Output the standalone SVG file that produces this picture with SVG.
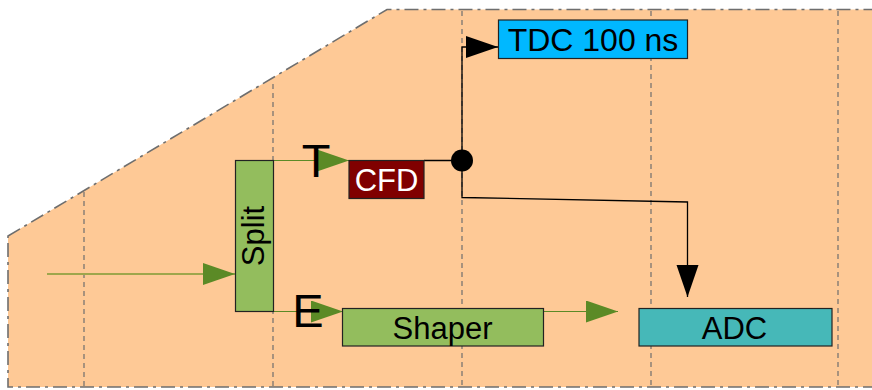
<svg xmlns="http://www.w3.org/2000/svg" width="872" height="390" viewBox="0 0 872 390">
<defs>
<style>
.bg{fill:#fec996;stroke:#6e6e6e;stroke-width:1.6;stroke-dasharray:14,5,3,5}
.grid{stroke:#6e6e6e;stroke-width:1.2;stroke-dasharray:5,4;fill:none}
.box{stroke:#222;stroke-width:1.2}
.lbl{font-family:"Liberation Sans",Arial,sans-serif;text-anchor:middle}
.gl{stroke:#5b8a26;stroke-width:1.2;fill:none}
.bl{stroke:#000;stroke-width:1.3;fill:none}
</style>
<marker id="ga" markerUnits="userSpaceOnUse" markerWidth="34" markerHeight="24" refX="32" refY="11" orient="auto" viewBox="0 0 34 24">
<path d="M0,0 L32,11 L0,22 Z" fill="#5b8a26"/>
</marker>
<marker id="ba" markerUnits="userSpaceOnUse" markerWidth="34" markerHeight="24" refX="32" refY="11" orient="auto" viewBox="0 0 34 24">
<path d="M0,0 L32,11 L0,22 Z" fill="#000"/>
</marker>
</defs>
<polygon class="bg" points="8,236 387,9.5 884,9.5 884,387 8,387"/>
<g id="grid">
<line class="grid" x1="84" y1="192" x2="84" y2="386"/>
<line class="grid" x1="273" y1="84" x2="273" y2="386"/>
<line class="grid" x1="462" y1="11" x2="462" y2="386"/>
<line class="grid" x1="651" y1="11" x2="651" y2="386"/>
<line class="grid" x1="838" y1="11" x2="838" y2="386"/>
</g>
<g id="connectors">
<line x1="47" y1="274" x2="235" y2="274" stroke="#9ea64c" stroke-width="2" marker-end="url(#ga)"/>
<line class="gl" x1="273" y1="160.5" x2="349" y2="160.5" marker-end="url(#ga)"/>
<line class="gl" x1="273" y1="311.5" x2="343" y2="311.5" marker-end="url(#ga)"/>
<line class="gl" x1="543" y1="311.5" x2="618" y2="311.5" marker-end="url(#ga)"/>
<line class="bl" x1="424" y1="160.5" x2="462" y2="160.5"/>
<polyline class="bl" points="462,160.5 462,47 498,47" marker-end="url(#ba)"/>
<polyline class="bl" points="462,160.5 462,197.5 687.5,202 687.5,297" marker-end="url(#ba)"/>
<circle cx="462" cy="160.5" r="11" fill="#000"/>
</g>
<g id="split">
<rect class="box" x="235.5" y="160.5" width="38" height="151" fill="#93bd5d"/>
<text class="lbl" transform="translate(264,236) rotate(-90)" font-size="31" fill="#000">Split</text>
</g>
<g id="cfd">
<rect class="box" x="349" y="160.5" width="75" height="38" fill="#800000"/>
<text class="lbl" x="386.5" y="191" font-size="31" fill="#fff">CFD</text>
</g>
<g id="tdc">
<rect class="box" x="498.5" y="20" width="189" height="38.5" fill="#00b8ff"/>
<text class="lbl" x="593" y="51" font-size="32" fill="#000">TDC 100 ns</text>
</g>
<g id="shaper">
<rect class="box" x="342.5" y="308.5" width="201" height="37.5" fill="#93bd5d"/>
<text class="lbl" x="442.5" y="338.5" font-size="31" fill="#000">Shaper</text>
</g>
<g id="adc">
<rect class="box" x="639" y="308.5" width="193" height="37.5" fill="#46b8b8"/>
<text class="lbl" x="734.5" y="338.5" font-size="31" fill="#000">ADC</text>
</g>
<g id="labels">
<text class="lbl" x="316" y="177" font-size="47" fill="#000">T</text>
<text class="lbl" x="308" y="326.5" font-size="47" fill="#000">E</text>
</g>
</svg>
